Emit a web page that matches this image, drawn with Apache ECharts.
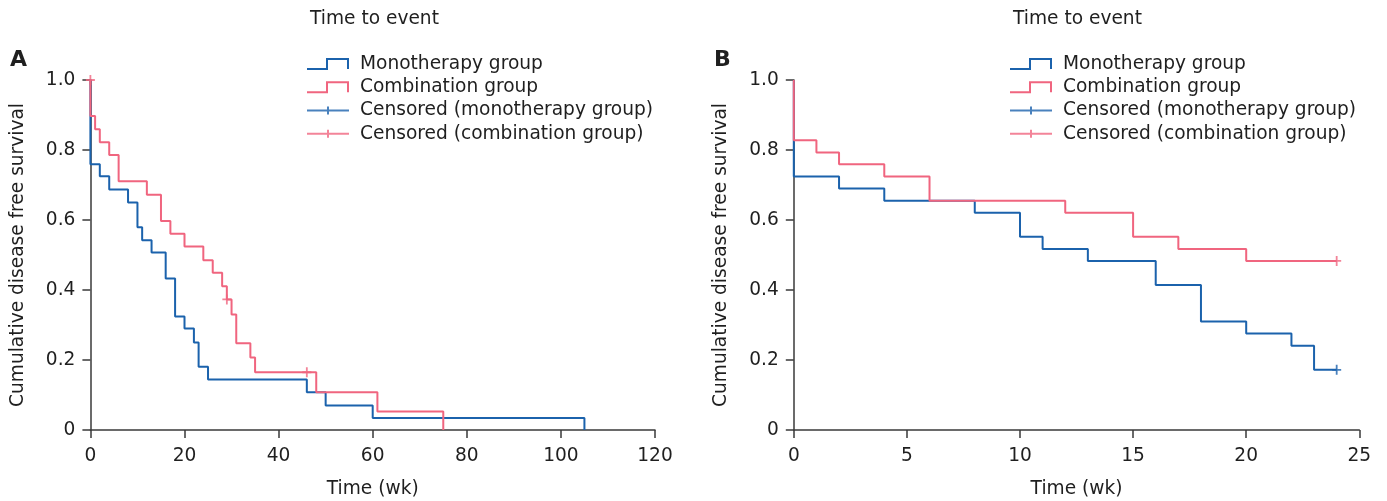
<!DOCTYPE html>
<html>
<head>
<meta charset="utf-8">
<script src="https://cdn.jsdelivr.net/npm/echarts@6/dist/echarts.min.js"></script>
<style>
html,body{margin:0;padding:0;background:#fff;}
#chart{width:1387px;height:501px;}
</style>
</head>
<body>
<div id="chart"></div>
<script>
// ---------- Data ----------
// Panel A
const monoA_t = [0, 0, 2, 4, 8, 10, 11, 13, 16, 18, 20, 22, 23, 25, 46, 50, 60, 105];
const monoA_s = [1.0, 0.759, 0.725, 0.687, 0.650, 0.579, 0.542, 0.507, 0.433, 0.324, 0.290, 0.250, 0.181, 0.144, 0.108, 0.070, 0.034, 0];
const combA_t = [0, 0, 1, 2, 4, 6, 12, 15, 17, 20, 24, 26, 28, 29, 30, 31, 34, 35, 48, 61, 75];
const combA_s = [1.0, 0.897, 0.859, 0.822, 0.786, 0.711, 0.672, 0.597, 0.561, 0.524, 0.485, 0.449, 0.411, 0.373, 0.330, 0.248, 0.207, 0.165, 0.108, 0.053, 0];
const censMonoA_t = [];
const censMonoA_s = [];
const censCombA_t = [0, 29, 46];
const censCombA_s = [1.0, 0.373, 0.165];
// Panel B
const monoB_t = [0, 0, 2, 4, 8, 10, 11, 13, 16, 18, 20, 22, 23, 24];
const monoB_s = [1.0, 0.724, 0.690, 0.655, 0.621, 0.552, 0.517, 0.483, 0.414, 0.310, 0.276, 0.241, 0.172, 0.172];
const combB_t = [0, 0, 1, 2, 4, 6, 12, 15, 17, 20, 24];
const combB_s = [1.0, 0.828, 0.793, 0.759, 0.724, 0.655, 0.621, 0.552, 0.517, 0.483, 0.483];
const censMonoB_t = [24];
const censMonoB_s = [0.172];
const censCombB_t = [24];
const censCombB_s = [0.483];
// Axis settings
const xMaxA = 120, xStepA = 20;
const xMaxB = 25, xStepB = 5;
const yMax = 1, yStep = 0.2;
// Text
const panelLabels = ['A', 'B'];
const legendTitle = 'Time to event';
const seriesNames = ['Monotherapy group', 'Combination group', 'Censored (monotherapy group)', 'Censored (combination group)'];
const xTitle = 'Time (wk)';
const yTitle = 'Cumulative disease free survival';

// ---------- Styling ----------
const BLUE = '#1b62ac';
const PINK = '#f0657f';
const AXIS = '#3a3a3a';
const TEXT = '#1f1f1f';
const FONT = 'DejaVu Sans';
const FS = 18.6;

const zip = (t, s) => t.map((v, i) => [v, s[i]]);

const stepIcon = 'path://M0,10 L19,10 L19,0 L42,0 L42,11 L40,11 L40,2 L21,2 L21,12 L0,12 Z';
const censIcon = 'path://M0,0 L0.01,0 L0,0.01 Z M0,5 L20,5 L20,2 L22,2 L22,5 L42,5 L42,7 L22,7 L22,10 L20,10 L20,7 L0,7 Z M42,12 L41.99,12 L42,11.99 Z';
const plusSym = 'path://M3.6,0 L5.4,0 L5.4,4.1 L9,4.1 L9,5.9 L5.4,5.9 L5.4,10 L3.6,10 L3.6,5.9 L0,5.9 L0,4.1 L3.6,4.1 Z';

function mkLegend(left) {
  return {
    left: left, top: 52.5, orient: 'vertical', padding: 0,
    itemWidth: 42, itemHeight: 12, itemGap: 0,
    selectedMode: false,
    itemStyle: { borderWidth: 0 },
    textStyle: { fontSize: FS, fontFamily: FONT, color: TEXT, lineHeight: 23.2, padding: [0, 0, 0, 6] },
    data: [
      { name: seriesNames[0], icon: stepIcon },
      { name: seriesNames[1], icon: stepIcon },
      { name: seriesNames[2], icon: censIcon },
      { name: seriesNames[3], icon: censIcon }
    ]
  };
}

function mkX(idx, max, step) {
  return {
    gridIndex: idx, type: 'value', min: 0, max: max, interval: step,
    name: xTitle, nameLocation: 'middle', nameGap: 50,
    nameTextStyle: { fontSize: FS, fontFamily: FONT, color: TEXT },
    axisLine: { show: true, lineStyle: { color: AXIS, width: 1.5 } },
    axisTick: { show: true, length: 8, lineStyle: { color: AXIS, width: 1.5 } },
    axisLabel: { fontSize: FS, fontFamily: FONT, color: TEXT, margin: 17 },
    splitLine: { show: false }
  };
}
function mkY(idx) {
  return {
    gridIndex: idx, type: 'value', min: 0, max: yMax, interval: yStep,
    name: yTitle, nameLocation: 'middle', nameGap: 63,
    nameTextStyle: { fontSize: FS, fontFamily: FONT, color: TEXT },
    axisLine: { show: true, lineStyle: { color: AXIS, width: 1.5 } },
    axisTick: { show: true, length: 8, lineStyle: { color: AXIS, width: 1.5 } },
    axisLabel: { fontSize: FS, fontFamily: FONT, color: TEXT, margin: 15,
      formatter: v => (v === 0 ? '0' : v.toFixed(1)) },
    splitLine: { show: false }
  };
}
function stepSeries(name, idx, data, color) {
  return {
    name: name, type: 'line', xAxisIndex: idx, yAxisIndex: idx, data: data,
    step: 'end', symbol: 'none', showSymbol: false, animation: false,
    lineStyle: { color: color, width: 2 }, itemStyle: { color: color }
  };
}
function censSeries(name, idx, data, color) {
  return {
    name: name, type: 'scatter', xAxisIndex: idx, yAxisIndex: idx, data: data,
    symbol: plusSym, symbolSize: [9, 10], animation: false, z: 5,
    itemStyle: { color: color }
  };
}

const option = {
  backgroundColor: '#fff',
  animation: false,
  title: [
    { text: panelLabels[0], left: 10, top: 49, padding: 0, textStyle: { fontSize: 22, fontWeight: 'bold', fontFamily: FONT, color: TEXT } },
    { text: panelLabels[1], left: 714, top: 49, padding: 0, textStyle: { fontSize: 22, fontWeight: 'bold', fontFamily: FONT, color: TEXT } },
    { text: legendTitle, left: 310, top: 10, padding: 0, textStyle: { fontSize: FS, fontWeight: 'normal', fontFamily: FONT, color: TEXT } },
    { text: legendTitle, left: 1013, top: 10, padding: 0, textStyle: { fontSize: FS, fontWeight: 'normal', fontFamily: FONT, color: TEXT } }
  ],
  legend: [mkLegend(307), mkLegend(1010)],
  grid: [
    { left: 90.4, top: 80, width: 564.6, height: 350, containLabel: false, outerBoundsMode: 'none' },
    { left: 793.8, top: 80, width: 565.5, height: 350, containLabel: false, outerBoundsMode: 'none' }
  ],
  xAxis: [mkX(0, xMaxA, xStepA), mkX(1, xMaxB, xStepB)],
  yAxis: [mkY(0), mkY(1)],
  series: [
    stepSeries(seriesNames[0], 0, zip(monoA_t, monoA_s), BLUE),
    stepSeries(seriesNames[1], 0, zip(combA_t, combA_s), PINK),
    censSeries(seriesNames[2], 0, zip(censMonoA_t, censMonoA_s), BLUE),
    censSeries(seriesNames[3], 0, zip(censCombA_t, censCombA_s), PINK),
    stepSeries(seriesNames[0], 1, zip(monoB_t, monoB_s), BLUE),
    stepSeries(seriesNames[1], 1, zip(combB_t, combB_s), PINK),
    censSeries(seriesNames[2], 1, zip(censMonoB_t, censMonoB_s), BLUE),
    censSeries(seriesNames[3], 1, zip(censCombB_t, censCombB_s), PINK)
  ]
};

const chart = echarts.init(document.getElementById('chart'), null, { renderer: 'canvas' });
chart.setOption(option);
</script>
</body>
</html>
